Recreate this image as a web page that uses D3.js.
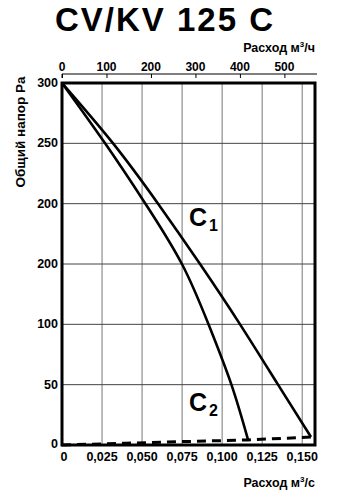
<!DOCTYPE html>
<html><head><meta charset="utf-8">
<script src="https://cdn.jsdelivr.net/npm/d3@7"></script>
<style>body{margin:0;background:#fff}svg{display:block}text{font-family:"Liberation Sans",Arial,sans-serif;font-weight:bold;fill:#000}</style>
</head><body>
<script>
const title = "CV/KV 125 C";
const yTickValues = [300, 250, 200, 150, 100, 50, 0];
const yTickLabels = ["300", "250", "200", "200", "100", "50", "0"];
const xTickValues = [0, 0.025, 0.05, 0.075, 0.1, 0.125, 0.15];
const xTickLabels = ["0", "0,025", "0,050", "0,075", "0,100", "0,125", "0,150"];
const topTickValues = [0, 100, 200, 300, 400, 500];
// curve C1: [flow m3/s, pressure Pa]
const curveC1 = [[0,300],[0.0319,250],[0.0600,200],[0.0862,150],[0.1112,100],[0.1349,50],[0.1555,6.6]];
const curveC2 = [[0,300],[0.0269,250],[0.0521,200],[0.0749,150],[0.0915,100],[0.1058,50],[0.1162,4.2]];
const systemLine = [[0,0],[0.04,1.5],[0.075,2.8],[0.1162,4.2],[0.1555,6.6]];

const W = 357, H = 500;
const svg = d3.select("body").append("svg").attr("width", W).attr("height", H);
const x = d3.scaleLinear().domain([0, 0.158]).range([62, 315]);
const xh = d3.scaleLinear().domain([0, 0.158 * 3600]).range([62, 315]);
const y = d3.scaleLinear().domain([0, 300]).range([445, 83]);

// title
svg.append("text").attr("x", 165).attr("y", 31).attr("text-anchor", "middle")
  .style("font-size", "33px").style("letter-spacing", "2px").text(title);

// grid
svg.append("g").selectAll("line").data(xTickValues.slice(1)).join("line")
  .attr("x1", d => x(d)).attr("x2", d => x(d)).attr("y1", y(300)).attr("y2", y(0))
  .attr("stroke", "#777").attr("stroke-width", 1);
svg.append("g").selectAll("line").data(yTickValues.filter(v => v > 0 && v < 300)).join("line")
  .attr("x1", x(0)).attr("x2", 315).attr("y1", d => y(d)).attr("y2", d => y(d))
  .attr("stroke", "#444").attr("stroke-width", 1);

// frame
svg.append("rect").attr("x", 62).attr("y", 83).attr("width", 253).attr("height", 362)
  .attr("fill", "none").attr("stroke", "#000").attr("stroke-width", 3);

// top axis
const topAxis = svg.append("g").attr("transform", "translate(0,74)")
  .call(d3.axisBottom(xh).tickValues(topTickValues).tickSize(4).tickFormat(""));
topAxis.select(".domain").attr("d", "M62,4V0H317");
topAxis.selectAll("line").attr("stroke", "#000");
svg.append("g").selectAll("text").data(topTickValues).join("text")
  .attr("x", d => xh(d)).attr("y", 71).attr("text-anchor", "middle")
  .style("font-size", "12px").text(d => d);

// y tick labels
svg.append("g").selectAll("text").data(yTickValues).join("text")
  .attr("x", 58).attr("y", d => y(d) + 4 + (d === 0 ? -1 : 0)).attr("text-anchor", "end")
  .style("font-size", "12.5px").text((d, i) => yTickLabels[i]);

// bottom tick labels
svg.append("g").selectAll("text").data(xTickValues).join("text")
  .attr("x", (d, i) => x(d) + (i === 0 ? 2 : 0)).attr("y", 461).attr("text-anchor", "middle")
  .style("font-size", "12.5px").text((d, i) => xTickLabels[i]);

// axis titles
const t1 = svg.append("text").attr("x", 315).attr("y", 52).attr("text-anchor", "end").style("font-size", "12.5px");
t1.append("tspan").text("Расход м");
t1.append("tspan").attr("dy", -5).style("font-size", "8px").text("3");
t1.append("tspan").attr("dy", 5).text("/ч");
const t2 = svg.append("text").attr("x", 315).attr("y", 487).attr("text-anchor", "end").style("font-size", "12.5px");
t2.append("tspan").text("Расход м");
t2.append("tspan").attr("dy", -5).style("font-size", "8px").text("3");
t2.append("tspan").attr("dy", 5).text("/с");
svg.append("text").attr("transform", "translate(25,132) rotate(-90)").attr("text-anchor", "middle")
  .style("font-size", "13.5px").text("Общий напор Pa");

// curves
const line = d3.line().x(d => x(d[0])).y(d => y(d[1])).curve(d3.curveNatural);
[curveC1, curveC2].forEach(c => {
  svg.append("path").attr("d", line(c)).attr("fill", "none").attr("stroke", "#000").attr("stroke-width", 2.6);
});
svg.append("path").attr("d", d3.line().x(d => x(d[0])).y(d => y(d[1]))(systemLine))
  .attr("fill", "none").attr("stroke", "#000").attr("stroke-width", 3).attr("stroke-dasharray", "9,6");

// curve labels
function cLabel(px, py, sub) {
  const t = svg.append("text").attr("x", px).attr("y", py).style("font-size", "25px");
  t.append("tspan").text("C");
  t.append("tspan").attr("dy", 5).attr("dx", 2).style("font-size", "16px").text(sub);
}
cLabel(189, 226, "1");
cLabel(189, 411, "2");
</script>
</body></html>
